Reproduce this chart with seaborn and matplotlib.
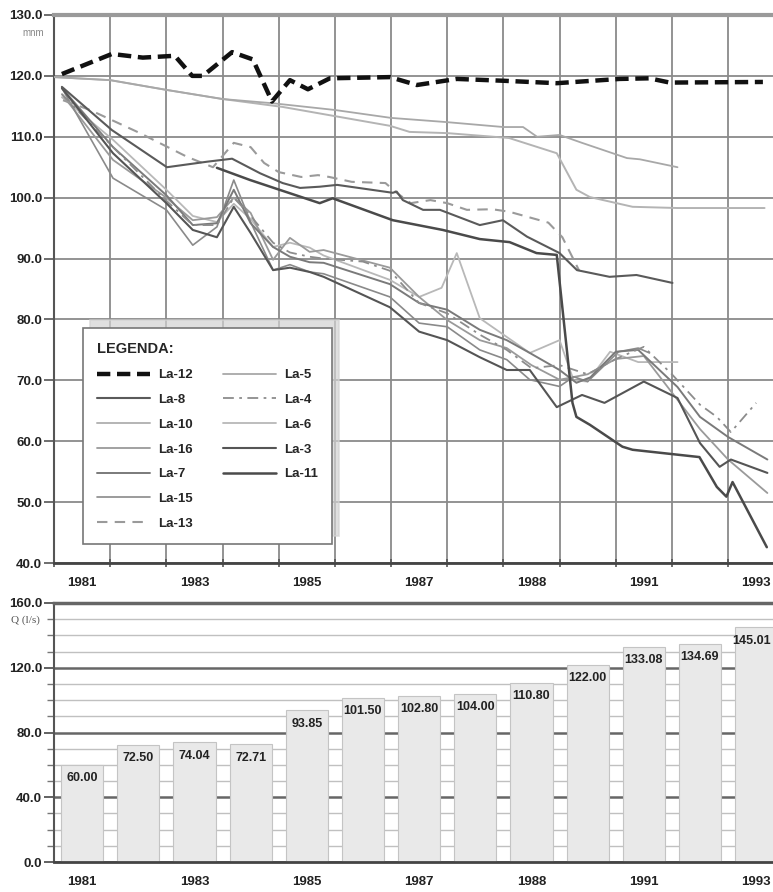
import numpy as np
import pandas as pd
import matplotlib
matplotlib.use("Agg")
import matplotlib.pyplot as plt
from matplotlib.lines import Line2D
from matplotlib.ticker import MultipleLocator, FixedLocator
import seaborn as sns

# piezometer levels (m n.m.)
la12_x = [1980.64, 1981.53, 1982.08, 1982.65, 1982.96, 1983.15, 1983.67, 1984.04, 1984.38, 1984.70,
          1985.02, 1985.41, 1986.48, 1986.96, 1987.67, 1988.5, 1989.45, 1990.57, 1991.1, 1991.46, 1993.12]
la12_y = [120.3, 123.6, 123.0, 123.3, 120.0, 120.0, 123.9, 122.7, 115.8, 119.3,
          117.8, 119.6, 119.8, 118.5, 119.5, 119.2, 118.8, 119.5, 119.6, 118.9, 119.0]

la5_x = [1980.5, 1981.5, 1982.5, 1983.5, 1984.4, 1985.5, 1986.5, 1987.5, 1988.5, 1988.85, 1989.1,
         1989.5, 1989.9, 1990.7, 1990.93, 1991.6]
la5_y = [119.8, 119.3, 117.7, 116.2, 115.5, 114.4, 113.1, 112.4, 111.6, 111.6, 110.0,
         110.3, 109.0, 106.5, 106.3, 105.0]

la10_x = [1980.5, 1981.5, 1982.5, 1983.5, 1984.57, 1986.48, 1986.83, 1987.5, 1988.6, 1989.45, 1989.8,
          1990.04, 1990.8, 1991.6, 1993.15]
la10_y = [119.8, 119.3, 117.7, 116.2, 114.9, 111.8, 110.8, 110.6, 109.8, 107.3, 101.3,
          100.1, 98.5, 98.3, 98.3]

la13_x = [1980.66, 1981.14, 1982.03, 1982.87, 1983.33, 1983.7, 1984.0, 1984.24, 1984.5, 1984.9, 1985.2,
          1985.4, 1985.8, 1986.4, 1986.6, 1986.85, 1987.2, 1987.5, 1987.85, 1988.3, 1988.6, 1989.3,
          1989.55, 1989.85]
la13_y = [116.0, 114.4, 110.6, 106.7, 105.0, 109.0, 108.3, 105.7, 104.2, 103.4, 103.7,
          103.4, 102.6, 102.4, 100.8, 99.1, 99.6, 99.1, 98.0, 98.1, 97.7, 95.9,
          93.5, 88.0]

la8_x = [1980.64, 1981.53, 1982.51, 1983.22, 1983.67, 1984.17, 1984.57, 1984.88, 1985.23, 1985.54,
         1986.53, 1986.6, 1986.71, 1987.07, 1987.37, 1988.08, 1988.49, 1988.92, 1989.5, 1989.81,
         1990.39, 1990.87, 1991.51]
la8_y = [118.2, 111.1, 105.0, 105.9, 106.4, 104.0, 102.4, 101.6, 101.8, 102.1,
         100.8, 101.0, 99.6, 98.0, 98.0, 95.5, 96.3, 93.6, 90.9, 88.1,
         87.0, 87.3, 86.0]

la11_x = [1983.4, 1983.99, 1985.23, 1985.46, 1986.53, 1987.42, 1988.08, 1988.61, 1989.09, 1989.45,
          1989.73, 1989.8, 1990.04, 1990.62, 1990.8, 1991.99, 1992.3, 1992.47, 1992.58, 1993.19]
la11_y = [104.9, 102.9, 99.1, 99.9, 96.3, 94.7, 93.2, 92.7, 90.9, 90.6,
          66.3, 64.0, 62.7, 59.1, 58.6, 57.4, 52.5, 50.9, 53.3, 42.6]

la7_x = [1980.64, 1981.55, 1982.5, 1982.97, 1983.4, 1983.7, 1984.0, 1984.4, 1984.7, 1985.05, 1985.3,
         1986.48, 1987.0, 1987.5, 1988.08, 1988.56, 1988.97, 1989.5, 1989.8, 1990.05, 1990.5, 1990.9,
         1991.6, 1992.0, 1992.5, 1993.2]
la7_y = [118.0, 108.3, 100.4, 95.5, 95.8, 101.3, 95.8, 91.9, 90.3, 89.4, 89.3,
         85.8, 82.7, 81.6, 78.3, 76.6, 74.5, 71.7, 69.6, 70.5, 74.7, 75.0,
         68.9, 64.0, 60.7, 57.0]

la3_x = [1980.64, 1981.55, 1982.5, 1982.97, 1983.4, 1983.7, 1984.0, 1984.4, 1984.7, 1985.05, 1985.3,
         1986.48, 1987.0, 1987.5, 1988.08, 1988.56, 1988.97, 1989.45, 1989.9, 1990.3, 1991.0, 1991.6,
         1992.0, 1992.35, 1992.55, 1993.2]
la3_y = [118.0, 107.3, 99.1, 94.7, 93.5, 98.5, 94.2, 88.1, 88.5, 87.8, 87.0,
         82.0, 78.0, 76.6, 73.8, 71.7, 71.7, 65.6, 67.6, 66.3, 69.8, 67.1,
         59.7, 55.8, 57.0, 54.8]

la16_x = [1980.64, 1981.55, 1982.5, 1982.97, 1983.4, 1983.7, 1984.0, 1984.4, 1984.7, 1985.05, 1985.3,
          1986.48, 1987.0, 1987.5, 1988.08, 1988.56, 1989.0, 1989.5, 1990.0, 1990.5, 1991.0, 1991.5,
          1992.0, 1992.5, 1993.2]
la16_y = [117.0, 106.2, 100.0, 96.3, 96.8, 100.0, 97.5, 89.8, 93.4, 91.1, 91.4,
          88.5, 83.7, 79.9, 76.6, 75.3, 72.5, 70.1, 71.0, 73.5, 74.0, 68.0,
          62.0, 57.0, 51.5]

la15_x = [1980.64, 1981.55, 1982.5, 1982.97, 1983.4, 1983.7, 1984.0, 1984.4, 1984.7, 1985.05, 1985.3,
          1986.48, 1987.0, 1987.5, 1988.08, 1988.56, 1988.97, 1989.5, 1989.75, 1990.0, 1990.55, 1990.9,
          1991.1]
la15_y = [118.0, 103.2, 98.0, 92.2, 95.2, 102.9, 96.0, 88.1, 89.0, 87.8, 87.5,
          83.7, 79.4, 78.8, 75.0, 73.4, 70.1, 69.0, 70.6, 69.8, 74.7, 75.3,
          74.5]

la6_x = [1980.64, 1981.55, 1982.5, 1982.97, 1983.4, 1983.7, 1984.0, 1984.4, 1984.7, 1985.05, 1985.3,
         1986.48, 1987.0, 1987.4, 1987.67, 1988.08, 1988.97, 1989.5, 1989.75, 1990.0, 1990.4, 1990.9,
         1991.6]
la6_y = [116.5, 109.5, 101.3, 97.0, 96.0, 99.0, 96.5, 91.9, 92.6, 91.8, 90.5,
         86.5, 83.7, 85.2, 90.9, 80.2, 74.5, 76.6, 70.0, 69.8, 74.7, 73.0,
         73.0]

la4_x = [1980.64, 1981.55, 1982.5, 1982.97, 1983.4, 1983.7, 1984.0, 1984.4, 1984.7, 1985.05, 1985.3,
         1986.0, 1986.48, 1987.0, 1987.5, 1988.08, 1988.56, 1989.0, 1989.5, 1990.0, 1990.5, 1991.0,
         1991.5, 1992.0, 1992.3, 1992.55, 1993.0]
la4_y = [117.0, 108.3, 99.5, 95.5, 95.5, 100.0, 97.0, 92.6, 91.0, 90.3, 90.0,
         89.5, 88.0, 82.7, 81.0, 77.5, 75.0, 72.0, 72.5, 71.0, 73.5, 75.5,
         71.0, 66.0, 64.0, 61.5, 66.3]

# pumping rate Q (l/s)
bar_years = [1981, 1982, 1983, 1984, 1985, 1986, 1987, 1988, 1989, 1990, 1991, 1992, 1993]
bar_q = [60.00, 72.50, 74.04, 72.71, 93.85, 101.50, 102.80, 104.00, 110.80, 122.00, 133.08, 134.69, 145.01]

tick_years = [1981, 1983, 1985, 1987, 1989, 1991, 1993]
tick_labels = ["1981", "1983", "1985", "1987", "1988", "1991", "1993"]

legend_order = ["La-12", "La-8", "La-10", "La-16", "La-7", "La-15", "La-13",
                "La-5", "La-4", "La-6", "La-3", "La-11"]

sns.set_theme(style="white")
plt.rcParams["font.family"] = ["Liberation Sans Narrow", "Liberation Sans", "DejaVu Sans"]

fig = plt.figure(figsize=(7.73, 8.92), dpi=100)
ax1 = fig.add_axes([0.0699, 0.3688, 0.9301, 0.6144])
ax2 = fig.add_axes([0.0699, 0.0336, 0.9301, 0.2904])

series = [
    ("La-10", la10_x, la10_y, dict(color="#b4b4b4", linewidth=1.4)),
    ("La-5", la5_x, la5_y, dict(color="#a8a8a8", linewidth=1.3)),
    ("La-6", la6_x, la6_y, dict(color="#b8b8b8", linewidth=1.3)),
    ("La-16", la16_x, la16_y, dict(color="#9a9a9a", linewidth=1.3)),
    ("La-15", la15_x, la15_y, dict(color="#8a8a8a", linewidth=1.2)),
    ("La-7", la7_x, la7_y, dict(color="#7a7a7a", linewidth=1.4)),
    ("La-4", la4_x, la4_y, dict(color="#8c8c8c", linewidth=1.3, linestyle=(0, (6, 3, 1.5, 3)))),
    ("La-13", la13_x, la13_y, dict(color="#9a9a9a", linewidth=1.5, linestyle=(0, (5, 3.5)))),
    ("La-3", la3_x, la3_y, dict(color="#555555", linewidth=1.5)),
    ("La-8", la8_x, la8_y, dict(color="#5a5a5a", linewidth=1.5)),
    ("La-11", la11_x, la11_y, dict(color="#4a4a4a", linewidth=1.8)),
    ("La-12", la12_x, la12_y, dict(color="#111111", linewidth=3.2, linestyle=(0, (3, 1.5)))),
]

for name, xs, ys, style in series:
    sns.lineplot(x=xs, y=ys, ax=ax1, label=name, sort=False, zorder=4 if name == "La-12" else 3, **style)

# top panel axes
ax1.set_xlim(1980.5, 1993.3)
ax1.set_ylim(40, 130)
ax1.set_yticks(np.arange(40, 131, 10))
ax1.set_yticklabels([f"{v:.1f}" for v in np.arange(40, 131, 10)])
ax1.xaxis.set_major_locator(FixedLocator(tick_years))
ax1.set_xticklabels(tick_labels)
ax1.xaxis.set_minor_locator(FixedLocator(np.arange(1980.5, 1993.0, 1.0)))
ax1.grid(True, axis="y", which="major", color="#8a8a8a", linewidth=1.3)
ax1.grid(True, axis="x", which="minor", color="#8a8a8a", linewidth=1.3)
ax1.grid(False, axis="x", which="major")
ax1.tick_params(axis="x", which="major", length=0, pad=10, labelsize=9.5, labelcolor="#222")
ax1.tick_params(axis="x", which="minor", direction="inout", length=6, width=1.2, color="#555", bottom=True)
ax1.tick_params(axis="y", which="major", direction="out", length=7, width=1.2, color="#555", left=True,
                labelsize=9.5, labelcolor="#222", pad=1.5)
for lab in ax1.get_xticklabels() + ax1.get_yticklabels():
    lab.set_fontweight("bold")
ax1.spines["top"].set_color("#9a9a9a")
ax1.spines["top"].set_linewidth(3)
ax1.spines["left"].set_color("#555")
ax1.spines["left"].set_linewidth(1.5)
ax1.spines["bottom"].set_color("#444")
ax1.spines["bottom"].set_linewidth(2)
ax1.spines["right"].set_visible(False)
ax1.set_xlabel("")
ax1.set_ylabel("")

handles, labels = ax1.get_legend_handles_labels()
lookup = dict(zip(labels, handles))
blank = Line2D([], [], color="none")
leg_handles = [lookup[n] for n in legend_order[:7]] + [lookup[n] for n in legend_order[7:]] + [blank, blank]
leg_labels = legend_order[:7] + legend_order[7:] + ["", ""]
leg = ax1.legend(leg_handles, leg_labels, ncol=2, loc="upper left", bbox_to_anchor=(0.031, 0.441),
                 title="LEGENDA:", alignment="left", frameon=True, fancybox=False,
                 shadow={"ox": 5, "oy": 6, "color": "#d2d2d2", "alpha": 0.7},
                 handlelength=4.0, handletextpad=0.6, columnspacing=2.3, labelspacing=0.95,
                 borderpad=1.1, prop={"size": 9.5, "weight": "bold"},
                 title_fontproperties={"size": 10.5, "weight": "bold"})
leg.get_frame().set_edgecolor("#777")
leg.get_frame().set_linewidth(1.2)
leg.set_zorder(10)

fig.text(33 / 773, 1 - 33 / 892, "mnm", ha="center", va="center", fontsize=7, color="#888")

# bottom panel: bars
sns.barplot(x=bar_years, y=bar_q, ax=ax2, native_scale=True, width=0.75, color="#e9e9e9",
            edgecolor="#c4c4c4", linewidth=0.8, saturation=1, errorbar=None)
bar_texts = ax2.bar_label(ax2.containers[0], labels=[f"{v:.2f}" for v in bar_q], padding=-14,
                          fontsize=9, fontweight="bold", color="#222")
bar_texts[-1].xyann = (-3, -14)
ax2.set_xlim(1980.5, 1993.3)
ax2.set_ylim(0, 160)
ax2.yaxis.set_major_locator(MultipleLocator(40))
ax2.yaxis.set_minor_locator(MultipleLocator(10))
ax2.set_yticklabels([f"{v:.1f}" for v in ax2.get_yticks()])
ax2.xaxis.set_major_locator(FixedLocator(tick_years))
ax2.set_xticklabels(tick_labels)
ax2.set_axisbelow(True)
ax2.grid(True, axis="y", which="major", color="#666", linewidth=1.8)
ax2.grid(True, axis="y", which="minor", color="#c0c0c0", linewidth=1.0)
ax2.grid(False, axis="x")
ax2.tick_params(axis="x", which="major", length=0, pad=10, labelsize=9.5, labelcolor="#222")
ax2.tick_params(axis="y", which="major", direction="out", length=7, width=1.3, color="#555", left=True,
                labelsize=9.5, labelcolor="#222", pad=1.5)
ax2.tick_params(axis="y", which="minor", direction="out", length=5, width=1.0, color="#777", left=True)
for lab in ax2.get_xticklabels() + ax2.get_yticklabels():
    lab.set_fontweight("bold")
ax2.spines["top"].set_color("#666")
ax2.spines["top"].set_linewidth(2.5)
ax2.spines["left"].set_color("#555")
ax2.spines["left"].set_linewidth(1.5)
ax2.spines["bottom"].set_color("#444")
ax2.spines["bottom"].set_linewidth(2)
ax2.spines["right"].set_visible(False)
ax2.set_xlabel("")
ax2.set_ylabel("")

fig.text(25 / 773, 1 - 620 / 892, "Q (l/s)", ha="center", va="center", fontsize=8,
         color="#555", family=["Liberation Serif", "DejaVu Serif"])

fig.savefig("out.png", dpi=100)
